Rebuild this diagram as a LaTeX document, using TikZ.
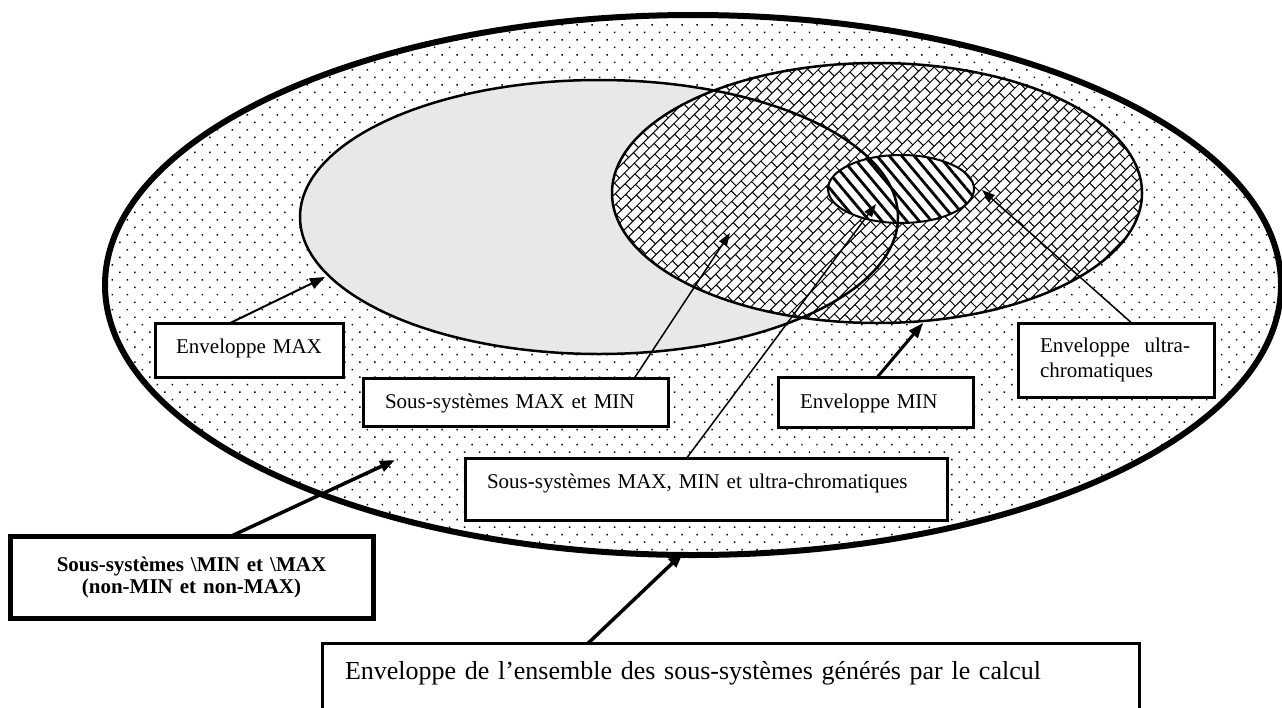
\documentclass[tikz,border=0pt]{standalone}
\usepackage{fontspec}
\setmainfont{Liberation Serif}
\usetikzlibrary{patterns,patterns.meta,arrows.meta,calc}

\pgfdeclarepattern{
  name=diagbricks,
  type=uncolored,
  bottom left={\pgfpoint{-.6pt}{-.6pt}},
  top right={\pgfpoint{14.6pt}{16.6pt}},
  tile size={\pgfpoint{14pt}{16pt}},
  tile transformation={\pgftransformrotate{45}},
  code={
    \pgfsetlinewidth{1pt}
    \pgfpathmoveto{\pgfpoint{0pt}{0pt}}\pgfpathlineto{\pgfpoint{14pt}{0pt}}
    \pgfpathmoveto{\pgfpoint{0pt}{8pt}}\pgfpathlineto{\pgfpoint{14pt}{8pt}}
    \pgfpathmoveto{\pgfpoint{0pt}{0pt}}\pgfpathlineto{\pgfpoint{0pt}{8pt}}
    \pgfpathmoveto{\pgfpoint{7pt}{8pt}}\pgfpathlineto{\pgfpoint{7pt}{16pt}}
    \pgfusepath{stroke}
  }
}

\newcommand\boxfont{\fontsize{21}{25}\selectfont}
\newcommand\bigboxfont{\fontsize{26}{30}\selectfont}

\tikzset{
  lbox/.style={draw, line width=3pt, fill=white, outer sep=0pt, inner ysep=0pt,
    anchor=north west, font=\boxfont},
  arr/.style={-{Triangle[length=15pt,width=11pt]}, line width=#1},
  thinarr/.style={-{Triangle[length=13pt,width=9pt]}, line width=#1},
}

\begin{document}
\begin{tikzpicture}[x=1pt,y=-1pt]
\clip (0,0) rectangle (1282,707);
\fill[white] (0,0) rectangle (1282,707);

% centres
\coordinate (cAll) at (693,285);
\coordinate (cMax) at (599,217);
\coordinate (cMin) at (877,193);
\coordinate (cUlt) at (901,189);

% fills
\path[preaction={fill=white}, pattern={Dots[distance=10.6pt,angle=45,radius=1.05pt]}]
  (cAll) ellipse [x radius=588pt, y radius=270pt];
\fill[black!9] (cMax) ellipse [x radius=299pt, y radius=137pt];
\path[preaction={fill=white}, pattern=diagbricks]
  (cMin) ellipse [x radius=265pt, y radius=130pt];
\path[preaction={fill=white}, pattern={Lines[angle=-50,distance=9.5pt,line width=2.8pt]}]
  (cUlt) ellipse [x radius=73pt, y radius=34pt];

% outlines
\draw[line width=6pt] (cAll) ellipse [x radius=588pt, y radius=270pt];
\draw[line width=2.5pt] (cMax) ellipse [x radius=299pt, y radius=137pt];
\draw[line width=2.5pt] (cMin) ellipse [x radius=265pt, y radius=130pt];
\draw[line width=2pt] (cUlt) ellipse [x radius=73pt, y radius=34pt];

% boxes
\node[lbox, align=center, inner xsep=4pt, text width=180pt, text height=30pt, text depth=24pt]
  (bmax) at (155,323) {Enveloppe MAX};
\node[lbox, align=left, inner xsep=22pt, text width=261pt, text height=30pt, text depth=18pt]
  (bmm) at (363,378) {Sous-systèmes MAX et MIN};
\node[lbox, align=left, inner xsep=22pt, text width=151pt, text height=31pt, text depth=19pt]
  (bmin) at (778,377) {Enveloppe MIN};
\node[lbox, align=left, inner xsep=22pt, text width=152pt, minimum height=74pt]
  (bult) at (1018,323) {\makebox[150pt][l]{Enveloppe\hfill ultra-}\\chromatiques};
\node[lbox, align=left, inner xsep=22pt, text width=438pt, text height=30pt, text depth=32pt]
  (bmmu) at (465,458) {Sous-systèmes MAX, MIN et ultra-chromatiques};
\node[lbox, line width=5pt, align=center, inner xsep=4pt, text width=355pt, minimum height=82pt,
  font={\fontsize{21}{22}\selectfont\bfseries}]
  (bnot) at (10,536) {\raisebox{-3pt}{Sous-systèmes \textbackslash MIN et \textbackslash MAX}\\\raisebox{-3pt}{(non-MIN et non-MAX)}};
\node[lbox, align=left, inner xsep=23pt, text width=771pt, text height=36pt, text depth=41pt,
  font=\bigboxfont]
  (ball) at (322,643) {Enveloppe de l’ensemble des sous-systèmes générés par le calcul};

% arrow targets
\coordinate (tMax) at (325,277);
\coordinate (tMM) at (730,233);
\coordinate (tMMU) at (876,204);
\coordinate (tMin) at (923,323);
\coordinate (tUlt) at (982,190);
\coordinate (tNot) at (395,460);
\coordinate (tAll) at (683,553);

% arrows
\draw[arr=2pt] ($(bmax.north west)!0.40!(bmax.north east)$) -- (tMax);
\draw[thinarr=1.5pt] ($(bmm.north west)!0.89!(bmm.north east)$) -- (tMM);
\draw[thinarr=1.5pt] ($(bmmu.north west)!0.46!(bmmu.north east)$) -- (tMMU);
\draw[arr=3pt] ($(bmin.north west)!0.51!(bmin.north east)$) -- (tMin);
\draw[thinarr=1.5pt] ($(bult.north west)!0.58!(bult.north east)$) -- (tUlt);
\draw[arr=3.5pt] ($(bnot.north west)!0.61!(bnot.north east)$) -- (tNot);
\draw[arr=3.5pt] ($(ball.north west)!0.326!(ball.north east)$) -- (tAll);
\end{tikzpicture}
\end{document}
